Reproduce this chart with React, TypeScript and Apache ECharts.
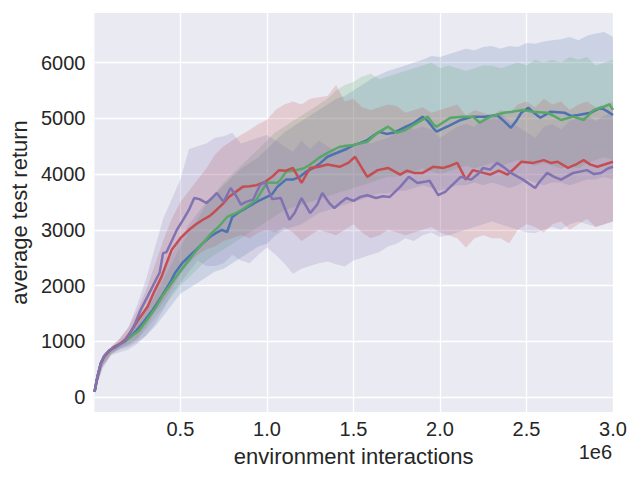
import React, { useEffect, useRef } from "react";
import * as echarts from "echarts";

// x values are in millions of environment interactions (axis shows "1e6" offset)
const blueX = [0.004, 0.02, 0.04, 0.06, 0.09, 0.12, 0.15, 0.18, 0.21, 0.24, 0.29, 0.34, 0.39, 0.44, 0.47, 0.51, 0.55, 0.59, 0.63, 0.67, 0.71, 0.74, 0.77, 0.80, 0.84, 0.88, 0.94, 1.00, 1.03, 1.06, 1.11, 1.15, 1.19, 1.23, 1.27, 1.31, 1.35, 1.42, 1.46, 1.50, 1.54, 1.58, 1.62, 1.65, 1.69, 1.73, 1.79, 1.85, 1.90, 1.93, 1.96, 1.98, 2.02, 2.06, 2.12, 2.19, 2.26, 2.33, 2.37, 2.41, 2.44, 2.47, 2.51, 2.55, 2.58, 2.64, 2.72, 2.76, 2.80, 2.87, 2.93, 2.97, 3.0];
const blueY = [95, 350, 600, 730, 830, 900, 950, 1000, 1080, 1170, 1360, 1560, 1800, 2050, 2230, 2400, 2520, 2640, 2760, 2870, 2950, 3000, 2960, 3230, 3320, 3390, 3500, 3590, 3640, 3770, 3900, 3900, 3950, 4050, 4110, 4200, 4310, 4400, 4450, 4520, 4560, 4610, 4700, 4760, 4720, 4740, 4830, 4920, 5030, 4950, 4830, 4760, 4820, 4880, 4970, 5030, 5030, 5060, 4950, 4830, 4950, 5100, 5190, 5080, 5010, 5120, 5100, 5040, 5060, 5100, 5190, 5120, 5060];

const greenX = [0.004, 0.02, 0.04, 0.06, 0.09, 0.12, 0.15, 0.18, 0.22, 0.26, 0.31, 0.36, 0.40, 0.45, 0.50, 0.55, 0.59, 0.63, 0.68, 0.72, 0.77, 0.82, 0.85, 0.88, 0.94, 0.97, 1.00, 1.03, 1.06, 1.08, 1.11, 1.17, 1.21, 1.25, 1.30, 1.35, 1.42, 1.50, 1.58, 1.64, 1.70, 1.75, 1.80, 1.87, 1.93, 1.96, 1.98, 2.02, 2.06, 2.13, 2.19, 2.23, 2.29, 2.37, 2.42, 2.48, 2.53, 2.62, 2.66, 2.70, 2.77, 2.83, 2.89, 2.95, 2.98, 3.0];
const greenY = [95, 350, 600, 730, 830, 900, 950, 1000, 1100, 1190, 1400, 1620, 1830, 2050, 2260, 2460, 2620, 2760, 2940, 3050, 3230, 3300, 3350, 3410, 3540, 3700, 3840, 3850, 3840, 3900, 4040, 4070, 4100, 4170, 4290, 4380, 4490, 4520, 4580, 4740, 4850, 4740, 4790, 4920, 5030, 4900, 4850, 4930, 5010, 5030, 5030, 4920, 5030, 5100, 5120, 5150, 5120, 5100, 5040, 4970, 5030, 4970, 5150, 5210, 5250, 5150];

const redX = [0.004, 0.02, 0.04, 0.06, 0.09, 0.12, 0.15, 0.18, 0.22, 0.26, 0.31, 0.35, 0.39, 0.42, 0.45, 0.50, 0.55, 0.59, 0.63, 0.67, 0.71, 0.75, 0.78, 0.82, 0.86, 0.90, 0.94, 0.99, 1.03, 1.07, 1.11, 1.15, 1.20, 1.25, 1.30, 1.35, 1.42, 1.47, 1.51, 1.55, 1.58, 1.64, 1.70, 1.77, 1.81, 1.85, 1.90, 1.96, 2.02, 2.06, 2.10, 2.15, 2.19, 2.24, 2.29, 2.34, 2.39, 2.43, 2.47, 2.54, 2.60, 2.64, 2.68, 2.74, 2.79, 2.83, 2.87, 2.91, 2.96, 3.0];
const redY = [95, 350, 600, 730, 830, 900, 950, 1020, 1200, 1400, 1620, 1900, 2150, 2400, 2640, 2850, 3000, 3100, 3180, 3250, 3360, 3480, 3590, 3680, 3770, 3780, 3800, 3860, 3950, 4070, 4060, 4110, 3840, 4110, 4130, 4170, 4130, 4200, 4310, 4100, 3950, 4070, 4110, 3990, 4060, 4020, 4020, 4130, 4110, 4150, 4200, 3900, 4070, 4030, 3990, 4060, 3990, 4100, 4220, 4200, 4250, 4200, 4220, 4110, 4180, 4250, 4170, 4130, 4180, 4220];

const purpleX = [0.004, 0.02, 0.04, 0.06, 0.09, 0.12, 0.15, 0.18, 0.21, 0.24, 0.27, 0.31, 0.35, 0.38, 0.40, 0.42, 0.45, 0.48, 0.52, 0.55, 0.58, 0.61, 0.65, 0.68, 0.71, 0.75, 0.79, 0.82, 0.85, 0.88, 0.92, 0.96, 0.99, 1.03, 1.08, 1.13, 1.16, 1.20, 1.25, 1.29, 1.32, 1.36, 1.39, 1.43, 1.46, 1.50, 1.54, 1.58, 1.63, 1.67, 1.71, 1.77, 1.82, 1.87, 1.91, 1.94, 1.99, 2.03, 2.06, 2.12, 2.18, 2.22, 2.25, 2.29, 2.33, 2.37, 2.41, 2.48, 2.55, 2.58, 2.62, 2.66, 2.70, 2.77, 2.85, 2.89, 2.93, 2.97, 3.0];
const purpleY = [90, 360, 610, 740, 840, 880, 940, 1000, 1150, 1330, 1560, 1800, 2050, 2230, 2580, 2600, 2800, 3000, 3200, 3360, 3570, 3550, 3480, 3560, 3660, 3500, 3750, 3620, 3450, 3500, 3540, 3800, 3860, 3550, 3570, 3180, 3300, 3570, 3300, 3450, 3660, 3480, 3390, 3500, 3570, 3520, 3590, 3620, 3570, 3600, 3590, 3770, 3950, 3840, 3860, 3880, 3620, 3680, 3770, 3950, 3900, 4000, 4110, 4080, 4200, 4120, 4020, 3900, 3750, 3880, 4020, 3950, 3900, 4020, 4070, 4000, 4020, 4100, 4130];

// confidence bands, sampled on a common grid of steps
const bandSteps = [0.004, 0.05, 0.10, 0.15, 0.20, 0.25, 0.30, 0.35, 0.40, 0.45, 0.50, 0.55, 0.60, 0.65, 0.70, 0.75, 0.80, 0.85, 0.90, 0.95, 1.00, 1.05, 1.10, 1.15, 1.20, 1.25, 1.30, 1.35, 1.40, 1.45, 1.50, 1.55, 1.60, 1.65, 1.70, 1.75, 1.80, 1.85, 1.90, 1.95, 2.00, 2.05, 2.10, 2.15, 2.20, 2.25, 2.30, 2.35, 2.40, 2.45, 2.50, 2.55, 2.60, 2.65, 2.70, 2.75, 2.80, 2.85, 2.90, 2.95, 3.00];

const blueHigh = [100, 680, 880, 1000, 1150, 1350, 1600, 1900, 2200, 2550, 2850, 3100, 3300, 3500, 3650, 3800, 3950, 4100, 4200, 4300, 4450, 4600, 4750, 4850, 4950, 5050, 5150, 5250, 5350, 5400, 5500, 5600, 5700, 5780, 5850, 5900, 5950, 6000, 6050, 6120, 6100, 6150, 6200, 6250, 6220, 6280, 6300, 6250, 6300, 6280, 6350, 6340, 6380, 6400, 6420, 6460, 6400, 6480, 6520, 6550, 6460];
const blueLow = [90, 550, 760, 850, 900, 980, 1100, 1250, 1450, 1650, 1850, 1950, 2050, 2150, 2250, 2300, 2400, 2500, 2600, 2700, 2750, 2900, 3000, 3050, 3100, 3200, 3300, 3350, 3400, 3450, 3500, 3550, 3600, 3650, 3650, 3700, 3700, 3750, 3800, 3750, 3700, 3750, 3800, 3800, 3850, 3800, 3850, 3800, 3750, 3800, 3900, 3850, 3800, 3850, 3850, 3800, 3850, 3900, 3900, 3950, 3900];

const greenHigh = [100, 680, 880, 980, 1100, 1300, 1550, 1800, 2100, 2400, 2700, 2950, 3200, 3450, 3650, 3850, 4000, 4150, 4300, 4450, 4600, 4750, 4850, 4950, 5050, 5150, 5250, 5350, 5500, 5600, 5650, 5750, 5800, 5700, 5750, 5800, 5850, 5900, 5950, 6000, 5900, 5950, 5900, 5850, 5900, 5950, 5950, 5900, 5950, 6000, 5950, 6050, 6000, 6050, 6000, 6100, 6050, 6100, 5950, 6000, 6050];
const greenLow = [90, 560, 770, 870, 930, 1020, 1200, 1400, 1600, 1800, 2000, 2150, 2300, 2450, 2550, 2650, 2750, 2850, 2950, 3050, 3150, 3250, 3350, 3400, 3450, 3500, 3550, 3600, 3650, 3700, 3750, 3800, 3850, 3900, 3950, 3950, 4000, 4050, 4100, 4050, 4000, 4050, 4100, 4150, 4100, 4150, 4200, 4150, 4200, 4250, 4200, 4150, 4200, 4150, 4100, 4150, 4100, 4200, 4250, 4300, 4250];

const redHigh = [100, 700, 900, 1050, 1250, 1550, 1900, 2350, 2800, 3200, 3500, 3700, 3900, 4100, 4350, 4500, 4600, 4700, 4790, 4900, 4970, 5150, 5250, 5300, 5250, 5350, 5380, 5400, 5600, 5300, 5350, 5200, 5150, 5200, 5250, 5220, 5100, 5150, 5200, 5100, 5150, 5200, 5250, 5050, 5150, 5100, 5050, 5150, 5100, 5250, 5300, 5200, 5350, 5250, 5300, 5150, 5250, 5300, 5200, 5250, 5300];
const redLow = [90, 550, 780, 880, 950, 1050, 1250, 1500, 1700, 1950, 2200, 2400, 2550, 2650, 2700, 2800, 2850, 2900, 2850, 2950, 3000, 2950, 3050, 2950, 2800, 2900, 3000, 2950, 2900, 3000, 3100, 2950, 2850, 2900, 3000, 2950, 2900, 2950, 3000, 3050, 2950, 2900, 2850, 2680, 2850, 2900, 2850, 2850, 2760, 3000, 3100, 3050, 2950, 3100, 3150, 3000, 3100, 3200, 3050, 3100, 3150];

const purpleHigh = [100, 700, 900, 1050, 1250, 1650, 2100, 2650, 3200, 3550, 3900, 4450, 4500, 4550, 4650, 4680, 4740, 4550, 4600, 4650, 4700, 4600, 4500, 4400, 4600, 4450, 4600, 4500, 4400, 4550, 4500, 4600, 4550, 4600, 4650, 4750, 4900, 4800, 4850, 4800, 4650, 4750, 4850, 4900, 4850, 5000, 5050, 5100, 4950, 4850, 4750, 4650, 4850, 4900, 4800, 4950, 5000, 5050, 4950, 5050, 5100];
const purpleLow = [80, 500, 750, 800, 850, 950, 1100, 1300, 1550, 1850, 2050, 2250, 2450, 2350, 2350, 2400, 2550, 2450, 2400, 2550, 2680, 2550, 2400, 2210, 2300, 2350, 2400, 2430, 2380, 2340, 2450, 2500, 2550, 2600, 2700, 2750, 2850, 2800, 2900, 2950, 2870, 2900, 2950, 3000, 3050, 3100, 3150, 3100, 3050, 3000, 2950, 2940, 3000, 3050, 3000, 3100, 3150, 3100, 3050, 3100, 3150];

const xTicks = [0.5, 1.0, 1.5, 2.0, 2.5, 3.0];
const yTicks = [0, 1000, 2000, 3000, 4000, 5000, 6000];
const xName = "environment interactions";
const yName = "average test return";
const offsetText = "1e6";

const FONT = "'Liberation Sans', Arial, sans-serif";
const TEXT = "#262626";

function band(low: number[], high: number[], color: string) {
  return {
    type: "custom",
    z: 1,
    silent: true,
    clip: true,
    data: [[bandSteps[0], low[0]]],
    renderItem: (_params: any, api: any) => {
      const pts: number[][] = [];
      for (let i = 0; i < bandSteps.length; i++) pts.push(api.coord([bandSteps[i], high[i]]));
      for (let i = bandSteps.length - 1; i >= 0; i--) pts.push(api.coord([bandSteps[i], low[i]]));
      return {
        type: "polygon",
        shape: { points: pts },
        style: { fill: color, stroke: null },
      };
    },
  };
}

function line(xs: number[], ys: number[], color: string) {
  return {
    type: "line",
    z: 3,
    silent: true,
    showSymbol: false,
    symbol: "none",
    data: xs.map((x, i) => [x, ys[i]]),
    lineStyle: { color, width: 2.5 },
    itemStyle: { color },
  };
}

export default function App() {
  const ref = useRef<HTMLDivElement>(null);
  useEffect(() => {
    if (!ref.current) return;
    const chart = echarts.init(ref.current, null, { renderer: "svg" });
    chart.setOption({
      animation: false,
      backgroundColor: "#ffffff",
      grid: {
        left: 94,
        right: 27,
        top: 13,
        bottom: 68,
        show: true,
        backgroundColor: "#EAEAF2",
        borderWidth: 0,
      },
      xAxis: {
        type: "value",
        min: 0.003,
        max: 3.0,
        axisLine: { show: false },
        axisTick: { show: false, customValues: xTicks },
        axisLabel: {
          customValues: xTicks,
          formatter: (v: number) => v.toFixed(1),
          fontSize: 20,
          color: TEXT,
          fontFamily: FONT,
          margin: 7,
        },
        splitLine: { show: true, lineStyle: { color: "#ffffff", width: 1.3 } },
        name: xName,
        nameLocation: "middle",
        nameGap: 33,
        nameTextStyle: { fontSize: 22, color: TEXT, fontFamily: FONT },
      },
      yAxis: {
        type: "value",
        min: -270,
        max: 6890,
        axisLine: { show: false },
        axisTick: { show: false, customValues: yTicks },
        axisLabel: {
          customValues: yTicks,
          formatter: (v: number) => String(Math.round(v)),
          fontSize: 20,
          color: TEXT,
          fontFamily: FONT,
          margin: 9,
        },
        splitLine: { show: true, lineStyle: { color: "#ffffff", width: 1.3 } },
        name: yName,
        nameLocation: "middle",
        nameGap: 62,
        nameRotate: 90,
        nameTextStyle: { fontSize: 22, color: TEXT, fontFamily: FONT },
      },
      graphic: [
        {
          type: "text",
          right: 28,
          top: 442,
          style: { text: offsetText, fontSize: 20, fill: TEXT, fontFamily: FONT },
        },
      ],
      series: [
        band(blueLow, blueHigh, "rgba(76,114,176,0.2)"),
        band(greenLow, greenHigh, "rgba(85,168,104,0.2)"),
        band(redLow, redHigh, "rgba(196,78,82,0.2)"),
        band(purpleLow, purpleHigh, "rgba(129,114,178,0.2)"),
        line(blueX, blueY, "#4C72B0"),
        line(greenX, greenY, "#55A868"),
        line(redX, redY, "#C44E52"),
        line(purpleX, purpleY, "#8172B2"),
      ],
    });
    return () => chart.dispose();
  }, []);
  return (
    <div
      ref={ref}
      style={{ position: "fixed", left: 0, top: 0, width: 640, height: 480 }}
    />
  );
}
